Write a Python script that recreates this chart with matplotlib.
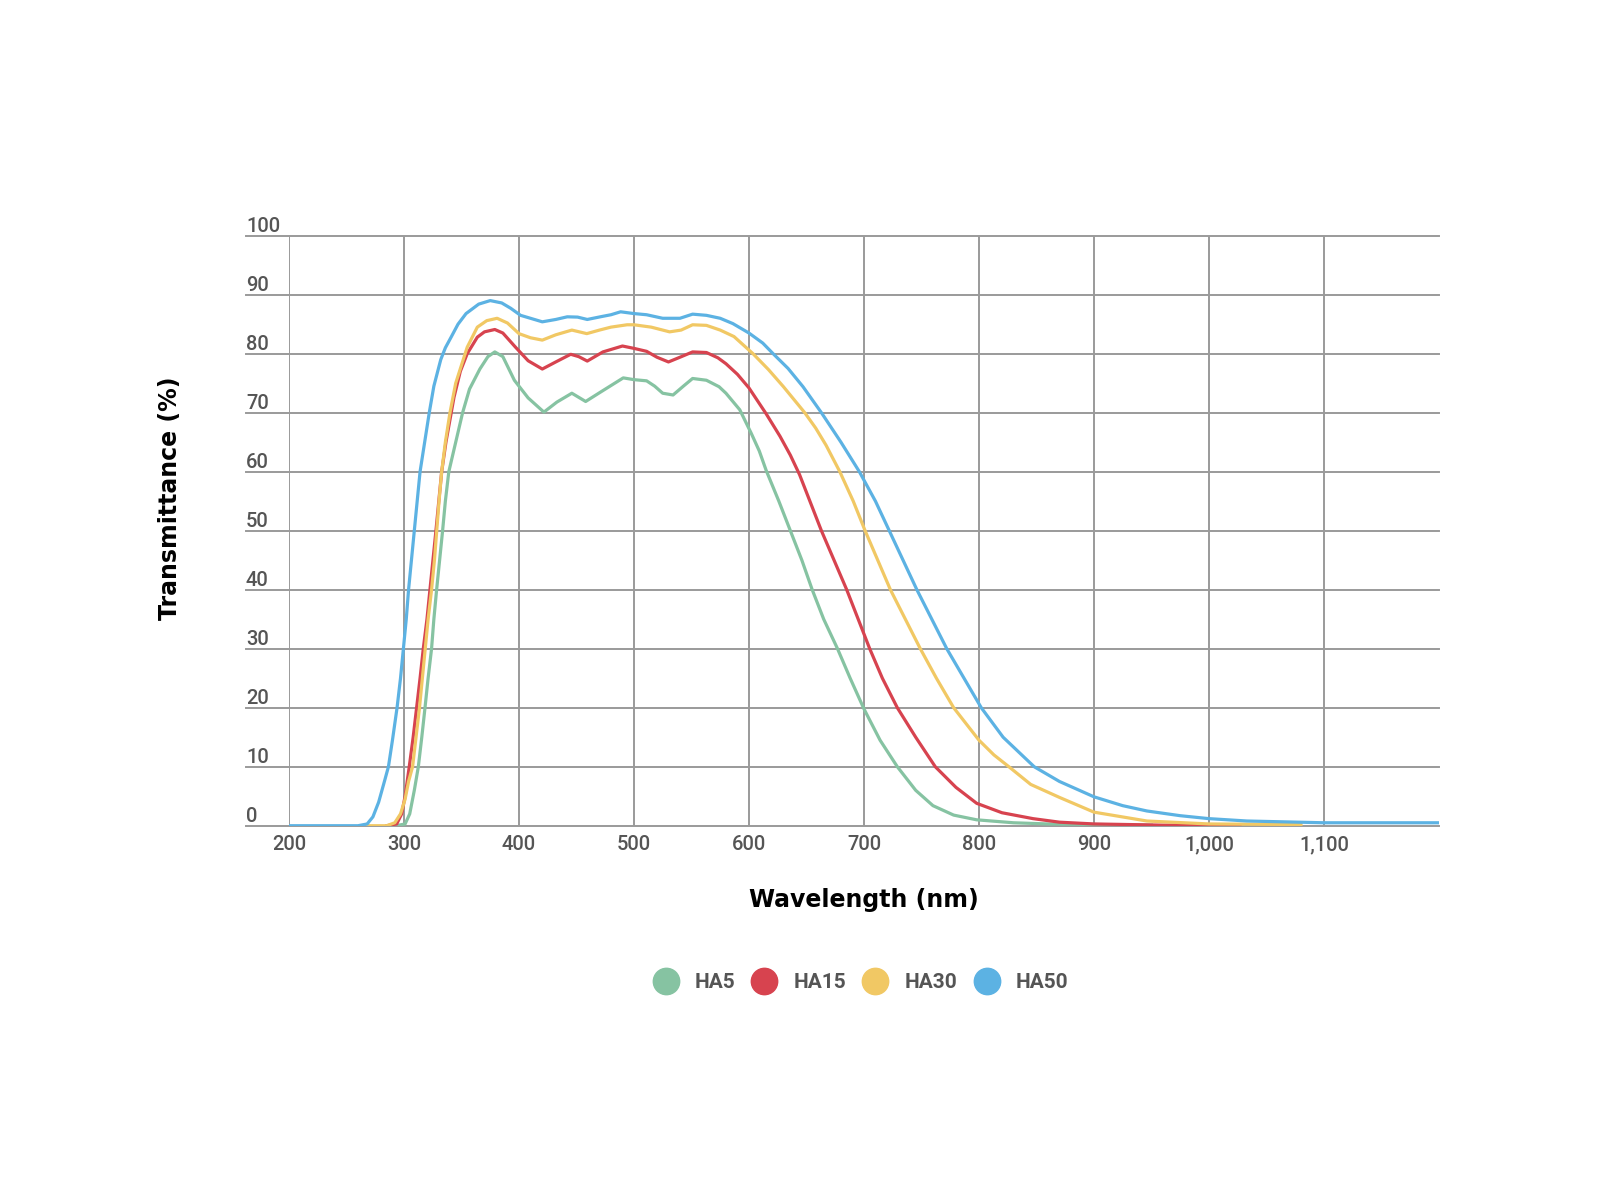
"""Transmittance curves for the HA filter series."""

import matplotlib.pyplot as plt
from matplotlib.lines import Line2D

# values (wavelength in nm, transmittance in %)
ha5_wl = [293, 301, 305, 309, 312.5, 315.5, 318.3, 321, 324, 326, 328.4, 331, 333.6,
          336, 339, 345, 351, 357, 366, 373, 379, 386, 396, 408, 421.7, 433, 446,
          458, 471, 490.7, 500, 511, 518, 525, 534, 543, 551, 563, 574, 580, 592,
          602, 609, 615, 626, 636, 646, 655, 665, 677, 688, 700, 714, 729, 745, 760,
          778, 798, 830, 860, 950]
ha5_t = [0, 0.3, 2, 6, 10, 15, 20, 25, 30, 35, 40, 45, 50,
         55, 60, 65, 70, 74, 77.4, 79.5, 80.3, 79.5, 75.5, 72.5, 70.1, 71.8, 73.3,
         71.9, 73.5, 75.9, 75.6, 75.4, 74.5, 73.3, 73, 74.5, 75.8, 75.5, 74.4, 73.3, 70.5,
         66.5, 63.5, 60.2, 55, 50, 45, 40, 35, 30, 25, 19.8, 14.5, 10, 6, 3.4,
         1.8, 1, 0.5, 0.3, 0.1]

ha15_wl = [285, 293.7, 298, 301, 304.6, 308, 311, 314, 316.8, 320, 322.6, 325.2, 327.8,
           330.3, 332.8, 336.5, 343.5, 349, 355, 363.8, 370, 379, 386, 397, 408,
           420.3, 432, 445, 452, 459.4, 466, 473, 490, 500, 511, 520, 530, 540,
           551, 563, 573, 580, 590, 600, 615, 627, 636, 644, 653, 663, 674, 685, 695,
           705, 716, 729, 745, 762, 780, 798, 820, 847, 870, 900, 960, 1027]
ha15_t = [0, 0.3, 2, 5, 10, 15, 20, 25, 30, 35, 40, 45, 50,
          55, 60, 65, 72.6, 77, 80, 82.8, 83.7, 84.1, 83.5, 81.1, 78.8,
          77.4, 78.6, 79.9, 79.5, 78.75, 79.5, 80.3, 81.3, 80.9, 80.4, 79.4, 78.6, 79.4,
          80.3, 80.2, 79.3, 78.3, 76.5, 74.2, 69.8, 66, 62.8, 59.5, 55, 50, 45, 40, 35,
          30, 25, 20, 15, 10, 6.5, 3.8, 2.2, 1.2, 0.6, 0.3, 0.1, 0.1]

ha30_wl = [268, 285, 292, 297, 301, 304, 307.5, 310.5, 313.5, 316, 318.5, 321, 324,
           326.5, 328.5, 330.5, 332.8, 336, 340, 345, 355, 363.8, 372, 381, 390,
           400, 410, 420.3, 432, 446, 459, 470, 480, 494, 500, 515, 531, 541,
           551, 563, 575, 587, 603.5, 617, 630, 648.5, 658, 667, 679, 690.7, 701, 712,
           723, 736, 749, 763, 778, 800, 813, 826, 845, 870, 900, 946, 1000, 1080]
ha30_t = [0, 0, 0.5, 2, 4.5, 7.5, 10, 15, 20, 25, 30, 35, 40,
          45, 50, 55, 60, 65, 70, 75, 81.1, 84.5, 85.6, 86, 85.2,
          83.4, 82.7, 82.3, 83.2, 84, 83.4, 84, 84.5, 84.9, 84.9, 84.5, 83.7, 84,
          84.9, 84.8, 84, 82.9, 80, 77.3, 74.4, 70, 67.4, 64.5, 60, 55, 50, 45,
          40, 35, 30, 25, 20, 14.5, 12, 10, 7, 4.8, 2.3, 0.8, 0.3, 0.2]

ha50_wl = [200, 260, 268, 273, 278, 283, 286.5, 290, 294, 297, 299.5, 302, 304,
           306.5, 309, 311.5, 314, 318, 322, 326, 332, 336, 341, 347, 354, 365,
           375, 385, 392.8, 401.4, 410, 420.3, 432, 442, 451, 459.4, 472, 480, 488.4,
           500, 511, 525, 540, 551, 563, 575, 586, 600, 612, 621, 634, 647, 663,
           680, 696, 710, 722, 734, 746, 759, 772, 787, 802, 821, 848, 870, 900,
           925, 946, 975, 1000, 1033, 1100, 1200]
ha50_t = [0, 0, 0.3, 1.5, 4, 7.5, 10, 14.5, 20, 25, 30, 35, 40,
          45, 50, 55, 60, 65, 70, 74.5, 79, 81, 82.8, 85, 86.8, 88.4,
          89, 88.6, 87.7, 86.5, 86, 85.4, 85.8, 86.25, 86.2, 85.8, 86.3, 86.6, 87.1,
          86.8, 86.6, 86, 86, 86.7, 86.5, 86, 85.1, 83.5, 81.8, 80, 77.5, 74.4, 70,
          65, 60, 55, 50, 45, 40, 35, 30, 25, 20, 15, 10, 7.5, 4.9,
          3.4, 2.5, 1.7, 1.2, 0.8, 0.5, 0.5]

names = ["HA5", "HA15", "HA30", "HA50"]
colors = ["#86c3a2", "#d7434f", "#f1c864", "#5cb2e3"]
series = [(ha5_wl, ha5_t), (ha15_wl, ha15_t), (ha30_wl, ha30_t), (ha50_wl, ha50_t)]

x_ticks = [200, 300, 400, 500, 600, 700, 800, 900, 1000, 1100]
x_labels = ["200", "300", "400", "500", "600", "700", "800", "900", "1,000", "1,100"]
y_ticks = [0, 10, 20, 30, 40, 50, 60, 70, 80, 90, 100]

grid_color = "#9a9a9a"
tick_color = "#555555"

fig = plt.figure(figsize=(16, 12), dpi=100)
ax = fig.add_axes([0.1806, 0.3119, 0.71875, 0.4917])

for (wl, t), c in zip(series, colors):
    ax.plot(wl, t, color=c, lw=2.3, zorder=3, solid_joinstyle="round")

ax.set_xlim(200, 1200)
ax.set_ylim(0, 100)
for s in ax.spines.values():
    s.set_visible(False)

# grid: vertical lines inside, horizontal lines run under the y labels
for x in x_ticks:
    ax.axvline(x, color=grid_color, lw=1.4, zorder=1)
for y in y_ticks:
    ax.axhline(y, xmin=-0.0374, xmax=1, color=grid_color, lw=1.4, zorder=1, clip_on=False)

ax.set_xticks(x_ticks)
ax.set_xticklabels(x_labels)
ax.set_yticks(y_ticks)
ax.tick_params(length=0, colors=tick_color)
ax.tick_params(axis="x", pad=7)
ax.tick_params(axis="y", pad=31)
for lbl in ax.get_xticklabels() + ax.get_yticklabels():
    lbl.set_fontfamily("Roboto")
    lbl.set_fontweight("medium")
    lbl.set_fontsize(14.5)
for lbl in ax.get_yticklabels():
    lbl.set_ha("left")
    lbl.set_va("bottom")

ax.set_xlabel("Wavelength (nm)", fontsize=17, fontweight="bold", family="DejaVu Sans")
ax.set_ylabel("Transmittance (%)", fontsize=17, fontweight="bold", family="DejaVu Sans")
ax.xaxis.set_label_coords(0.5, -0.126)
ax.yaxis.set_label_coords(-0.1035, 0.555)
ax.xaxis.label.set_va("center")
ax.yaxis.label.set_va("center")

handles = [Line2D([], [], marker="o", linestyle="none", markersize=19,
                  markerfacecolor=c, markeredgecolor=c) for c in colors]
leg = fig.legend(handles, names, loc="center", bbox_to_anchor=(0.5376, 0.181), ncol=4,
                 frameon=False, handlelength=1.3, handletextpad=0.75, columnspacing=0.75,
                 prop={"family": "Roboto", "weight": "bold", "size": 15})
for t in leg.get_texts():
    t.set_color(tick_color)

fig.savefig("out.png", dpi=100, facecolor="white")
